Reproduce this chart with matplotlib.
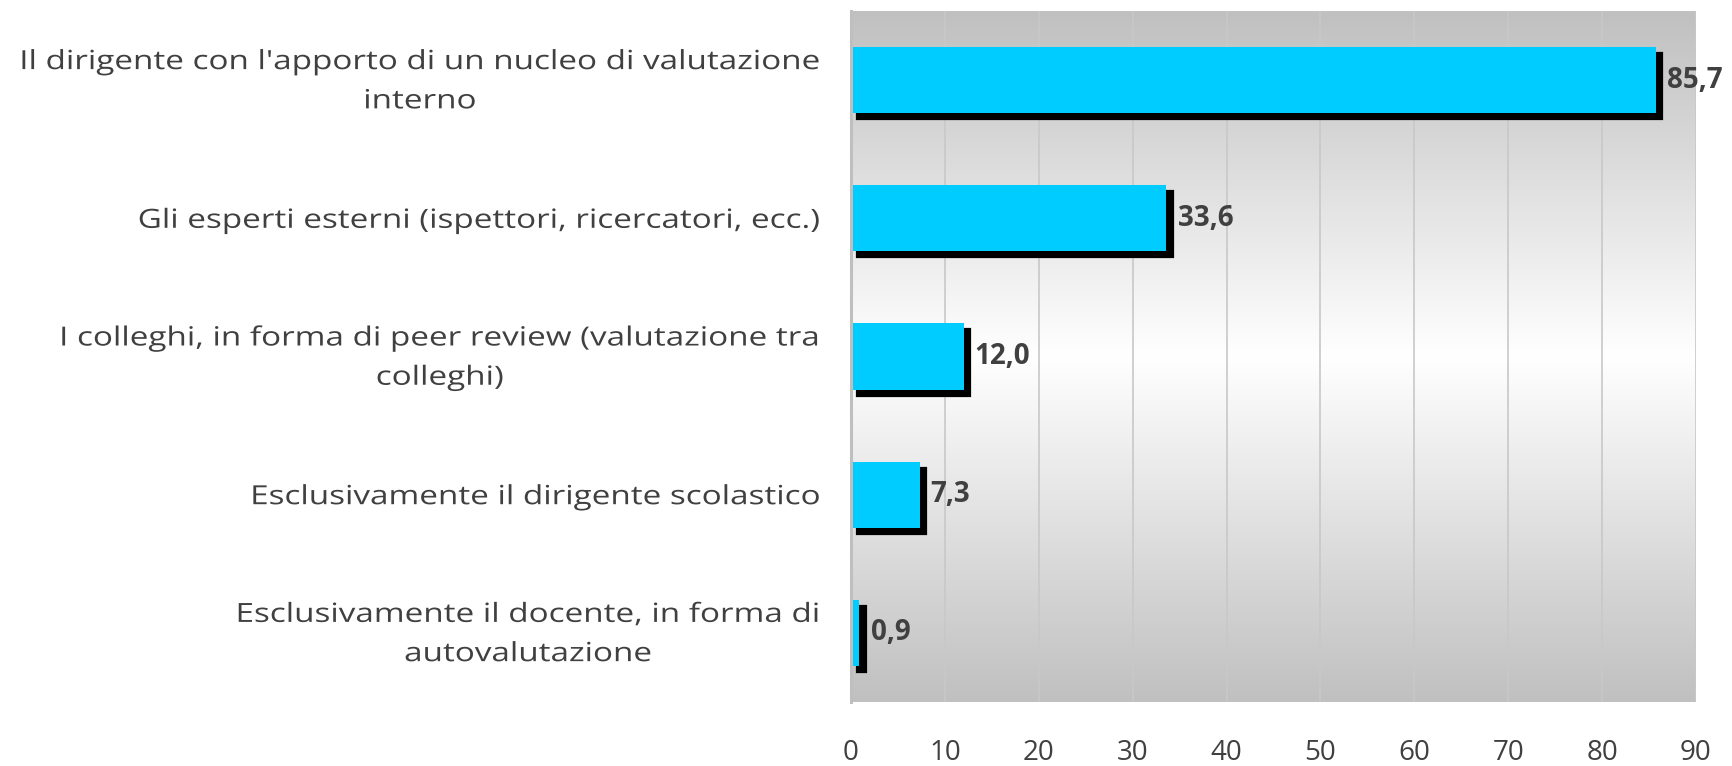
import numpy as np
import matplotlib
matplotlib.use("Agg")
import matplotlib.pyplot as plt
from matplotlib.transforms import ScaledTranslation, Affine2D
from matplotlib.patheffects import AbstractPathEffect

# Chart data
categories = [
    "Il dirigente con l'apporto di un nucleo di valutazione\ninterno",
    "Gli esperti esterni (ispettori, ricercatori, ecc.)",
    "I colleghi, in forma di peer review (valutazione tra\ncolleghi)",
    "Esclusivamente il dirigente scolastico",
    "Esclusivamente il docente, in forma di\nautovalutazione",
]
values = [85.7, 33.6, 12.0, 7.3, 0.9]
x_ticks = [0, 10, 20, 30, 40, 50, 60, 70, 80, 90]

plt.rcParams["font.family"] = ["Open Sans", "DejaVu Sans"]
text_color = "#404040"
bar_color = "#00CCFF"


class StretchX(AbstractPathEffect):
    """Widen text horizontally about a fixed display x position."""

    def __init__(self, factor, anchor_fn, dy=0.0):
        super().__init__()
        self.factor = factor
        self.anchor_fn = anchor_fn
        self.dy = dy

    def draw_path(self, renderer, gc, tpath, affine, rgbFace=None):
        x0 = self.anchor_fn()
        stretch = (Affine2D().translate(-x0, 0).scale(self.factor, 1)
                   .translate(x0, self.dy))
        renderer.draw_path(gc, tpath, affine + stretch, rgbFace)


fig = plt.figure(figsize=(17.33, 7.66), dpi=100)
ax = fig.add_axes([851 / 1733, 1 - 702 / 766, 845 / 1733, 691 / 766])

# Vertical gradient: gray at top and bottom, white in the middle
t = np.linspace(0, 1, 256)
shade = 0.753 + (1 - 0.753) * (1 - np.abs(2 * t - 1))
grad = np.dstack([shade, shade, shade]).reshape(256, 1, 3)
ax.imshow(grad, extent=[0, 1, 0, 1], transform=ax.transAxes,
          aspect="auto", zorder=0, interpolation="bicubic")

y = np.arange(len(categories))

# Drop shadow behind each bar
shadow_tr = ax.transData + ScaledTranslation(6.5 / 100, -6 / 100, fig.dpi_scale_trans)
ax.barh(y, values, height=0.48, color="black", edgecolor="black",
        linewidth=1.6, transform=shadow_tr, zorder=2)
ax.barh(y, values, height=0.48, color=bar_color, zorder=3)

for yi, v in zip(y, values):
    ax.annotate(f"{v:.1f}".replace(".", ","), xy=(v, yi), xytext=(8, 0),
                textcoords="offset points", ha="left", va="center",
                fontsize=20, fontweight="bold", color=text_color, zorder=4)

ax.set_xlim(0, 90)
ax.set_ylim(len(categories) - 0.5, -0.5)
ax.set_xticks(x_ticks)
ax.set_xticklabels([str(v) for v in x_ticks])
ax.set_yticks(y)
ax.set_yticklabels(categories, multialignment="center", linespacing=1.75)
ax.tick_params(axis="x", length=0, pad=27, labelsize=20, labelcolor=text_color)
ax.tick_params(axis="y", length=0, pad=22, labelsize=19, labelcolor=text_color)

ylabel_pad_px = 22 * fig.dpi / 72


def label_anchor():
    return ax.transAxes.transform((0, 0))[0] - ylabel_pad_px


for lbl, name in zip(ax.get_yticklabels(), categories):
    lift = 8.0 if "\n" in name else 0.0
    lbl.set_path_effects([StretchX(1.26, label_anchor, dy=lift)])

ax.grid(axis="x", color="#c8c8c8", linewidth=1.2, zorder=1)
ax.set_axisbelow(True)
for side in ["top", "right", "bottom"]:
    ax.spines[side].set_visible(False)
ax.spines["left"].set_color("#bfbfbf")
ax.spines["left"].set_linewidth(2.2)
ax.spines["left"].set_zorder(5)

fig.savefig("out.png", dpi=100)
